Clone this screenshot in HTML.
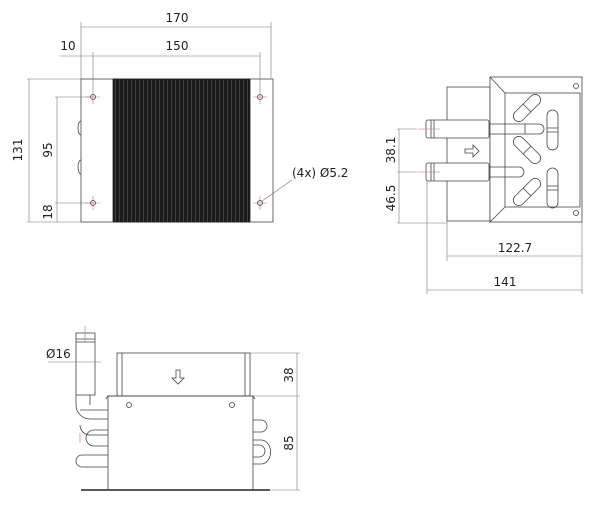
<!DOCTYPE html>
<html><head><style>body{margin:0;background:#fff}svg{display:block}text{font-family:"DejaVu Sans","Liberation Sans",sans-serif;font-size:12px;fill:#222}</style></head><body>
<svg width="600" height="506" viewBox="0 0 600 506" xmlns="http://www.w3.org/2000/svg">
<defs><pattern id="fin" width="4" height="10" patternUnits="userSpaceOnUse"><rect width="4" height="10" fill="#1a1a1a"/><line x1="3.5" y1="0" x2="3.5" y2="10" stroke="#555" stroke-width="0.6"/></pattern></defs>
<g fill="none" stroke="#444" stroke-width="0.8">
<!-- top view -->
<rect x="81" y="79" width="192" height="143" fill="#fff"/>
<rect x="113" y="79" width="137" height="143" fill="url(#fin)" stroke="#222"/>
<path d="M81 121 a3 7 0 0 0 0 14 M81 160 a3 7 0 0 0 0 14"/>
<g stroke="#d66" stroke-width="0.6"><path d="M86 97h14M93 90v14M253 97h14M260 90v14M86 203h14M93 196v14M253 203h14M260 196v14"/></g>
<circle cx="93" cy="97" r="2.5"/><circle cx="260" cy="97" r="2.5"/><circle cx="93" cy="203" r="2.5"/><circle cx="260" cy="203" r="2.5"/>
<g stroke="#777" stroke-width="0.6">
<path d="M81 79V22M271 79V22M81 27h190M93 90V52M260 90V52M60 56h200M27 79h54M27 222h54M29 79v143M55 97h38M55 203h38M55 222h26M57 97v125M262 201L292 180"/>
</g>
<!-- right view -->
<rect x="447" y="87" width="43" height="134" fill="#fff"/>
<rect x="490" y="77" width="92" height="145" fill="#fff"/>
<rect x="505" y="93" width="75" height="114"/>
<path d="M490 77L505 93M490 222L505 207"/>
<circle cx="576" cy="86" r="2.5"/><circle cx="576" cy="213" r="2.5"/>
<rect x="426" y="120" width="63" height="18" rx="2" fill="#fff"/><path d="M431 120v18M434 120v18"/>
<rect x="426" y="163" width="63" height="18" rx="2" fill="#fff"/><path d="M431 163v18M434 163v18"/>
<path d="M489 124h50a5 5 0 0 1 0 10h-50M489 167h30a5 5 0 0 1 0 10h-30M525 124v10"/>
<g transform="translate(527 108) rotate(-45)"><rect x="-17" y="-5.5" width="34" height="11" rx="5.5"/><path d="M0 -5.5v11"/></g>
<g transform="translate(527 150) rotate(45)"><rect x="-17" y="-5.5" width="34" height="11" rx="5.5"/><path d="M0 -5.5v11"/></g>
<g transform="translate(527 192) rotate(-45)"><rect x="-17" y="-5.5" width="34" height="11" rx="5.5"/><path d="M0 -5.5v11"/></g>
<rect x="547" y="110" width="11" height="40" rx="5.5"/><path d="M547 128h11M547 132h11"/>
<rect x="547" y="168" width="11" height="40" rx="5.5"/><path d="M547 186h11M547 190h11"/>
<path d="M465 149h8v-4l6 6-6 6v-4h-8z"/>
<g stroke="#d66" stroke-width="0.6"><path d="M418 129h22M418 172h22"/></g>
<g stroke="#777" stroke-width="0.6"><path d="M397 129h20M397 172h20M399 129v94M397 223h50M447 221v40M582 222v72M447 256h135M427 181v113M427 290h155"/></g>
<!-- bottom view -->
<rect x="117" y="353" width="133" height="43" fill="#fff"/>
<path d="M122 353v43M245 353v43"/>
<path d="M176 370h4v8h4l-6 6-6-6h4v-8z"/>
<path d="M76 395v10a14 14 0 0 0 14 14h18M90 395v10M95 395M80 410h28M108 430h-14a8 8 0 0 0 0 16h14M80 425a10 10 0 0 0 10 10h18M82 455h26a5 5 0 0 1 0 12h-26a6 6 0 0 1 0-12"/>
<path d="M253 420h8a5 5 0 0 1 0 12h-8M253 440h8a8 10 0 0 1 0 24h-8M253 445h6a5 5 0 0 1 0 12h-6"/>
<rect x="76" y="333" width="19" height="62" fill="#fff"/><path d="M76 339h19M76 342h19"/>
<rect x="108" y="396" width="145" height="94" fill="#fff"/><path d="M106 399l2-3h145l2 3"/>
<path d="M81 490h189" stroke="#222" stroke-width="1.5"/>
<circle cx="129" cy="405" r="2.5"/><circle cx="232" cy="405" r="2.5"/>
<g stroke="#d66" stroke-width="0.6"><path d="M85 326v16M80 433v10"/></g>
<g stroke="#777" stroke-width="0.6"><path d="M48 362h53M250 353h50M253 396h47M270 490h30M297 353v137"/></g>
</g>
<text x="177" y="22" text-anchor="middle">170</text>
<text x="177" y="50" text-anchor="middle">150</text>
<text x="68" y="50" text-anchor="middle">10</text>
<text transform="translate(22 150) rotate(-90)" text-anchor="middle">131</text>
<text transform="translate(52 150) rotate(-90)" text-anchor="middle">95</text>
<text transform="translate(52 212) rotate(-90)" text-anchor="middle">18</text>
<text x="292" y="177">(4x) Ø5.2</text>
<text transform="translate(395 150) rotate(-90)" text-anchor="middle">38.1</text>
<text transform="translate(395 198) rotate(-90)" text-anchor="middle">46.5</text>
<text x="515" y="252" text-anchor="middle">122.7</text>
<text x="505" y="286" text-anchor="middle">141</text>
<text x="46" y="358">Ø16</text>
<text transform="translate(293 375) rotate(-90)" text-anchor="middle">38</text>
<text transform="translate(293 443) rotate(-90)" text-anchor="middle">85</text>
</svg>
</body></html>
